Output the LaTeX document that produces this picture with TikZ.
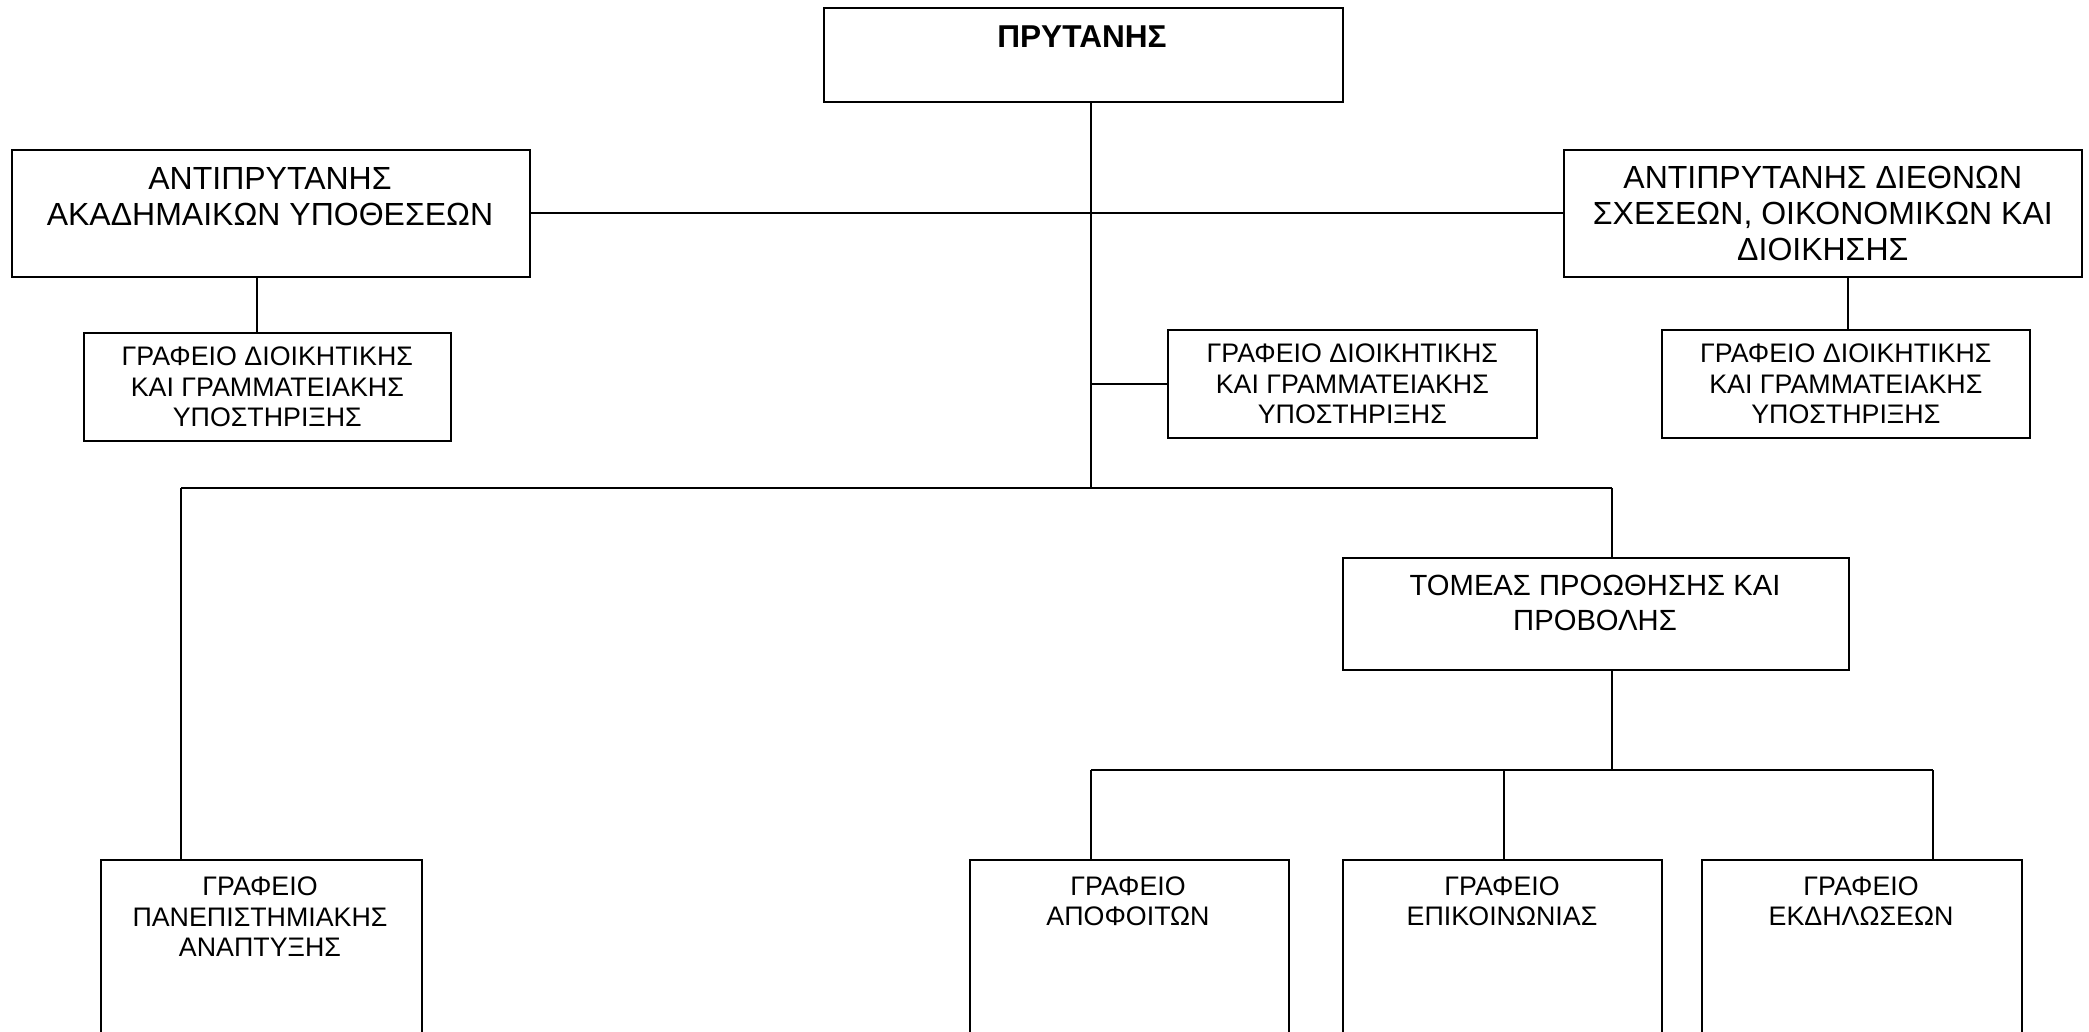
\documentclass[tikz,border=0pt]{standalone}
\usepackage{fontspec}
\setmainfont{Liberation Sans}
\usetikzlibrary{positioning}

\begin{document}
\begin{tikzpicture}[x=0.5pt,y=0.5pt,yscale=-1,xscale=1,
    box/.style={draw, line width=0.8pt, inner sep=0pt, anchor=north west, align=center},
    bigtxt/.style={font=\fontsize{16}{18}\selectfont, align=center, inner sep=0pt},
    smalltxt/.style={font=\fontsize{13.4}{15.2}\selectfont, align=center, inner sep=0pt},
    midtxt/.style={font=\fontsize{14.6}{17.5}\selectfont, align=center, inner sep=0pt},
    link/.style={line width=0.8pt}]
    \useasboundingbox (0,0) rectangle (2089,1032);
    \clip (0,0) rectangle (2089,1032);

    %Shape: Rectangle [president]
    \node [box, minimum width=259.5pt, minimum height=47pt] (pres) at (823,7) {};
    %Shape: Rectangle [vice rectors]
    \node [box, minimum width=259pt, minimum height=63.5pt] (vpA) at (11,149) {};
    \node [box, minimum width=259pt, minimum height=63.5pt, bigtxt] (vpB) at (1563,149) {ΑΝΤΙΠΡΥΤΑΝΗΣ ΔΙΕΘΝΩΝ\\ΣΧΕΣΕΩΝ, ΟΙΚΟΝΟΜΙΚΩΝ ΚΑΙ\\ΔΙΟΙΚΗΣΗΣ};
    %Shape: Rectangle [support offices]
    \node [box, minimum width=183.5pt, minimum height=54pt, smalltxt] (offA) at (83,332) {ΓΡΑΦΕΙΟ ΔΙΟΙΚΗΤΙΚΗΣ\\ΚΑΙ ΓΡΑΜΜΑΤΕΙΑΚΗΣ\\ΥΠΟΣΤΗΡΙΞΗΣ};
    \node [box, minimum width=184.5pt, minimum height=54pt, smalltxt] (offP) at (1167,329) {ΓΡΑΦΕΙΟ ΔΙΟΙΚΗΤΙΚΗΣ\\ΚΑΙ ΓΡΑΜΜΑΤΕΙΑΚΗΣ\\ΥΠΟΣΤΗΡΙΞΗΣ};
    \node [box, minimum width=184pt, minimum height=54pt, smalltxt] (offB) at (1661,329) {ΓΡΑΦΕΙΟ ΔΙΟΙΚΗΤΙΚΗΣ\\ΚΑΙ ΓΡΑΜΜΑΤΕΙΑΚΗΣ\\ΥΠΟΣΤΗΡΙΞΗΣ};
    %Shape: Rectangle [sector]
    \node [box, minimum width=253pt, minimum height=56pt] (tomeas) at (1342,557) {};
    %Shape: Rectangle [bottom offices]
    \node [box, minimum width=160.5pt, minimum height=125pt] (devel) at (100,859) {};
    \node [box, minimum width=159.5pt, minimum height=125pt] (alumni) at (969,859) {};
    \node [box, minimum width=159.5pt, minimum height=125pt] (comm) at (1342,859) {};
    \node [box, minimum width=160pt, minimum height=125pt] (events) at (1701,859) {};

    % Text Node
    \node [inner sep=0pt, font=\fontsize{15.8}{18}\selectfont\bfseries] (presT) at (1082,37) {ΠΡΥΤΑΝΗΣ};
    % Text Node
    \node [bigtxt] (vpAT) at (270,197) {ΑΝΤΙΠΡΥΤΑΝΗΣ\\ΑΚΑΔΗΜΑΙΚΩΝ ΥΠΟΘΕΣΕΩΝ};
    % Text Node
    \node [midtxt] (tomeasT) at (1595,603) {ΤΟΜΕΑΣ ΠΡΟΩΘΗΣΗΣ ΚΑΙ\\ΠΡΟΒΟΛΗΣ};
    % Text Node
    \node [smalltxt] (develT) at (260,917) {ΓΡΑΦΕΙΟ\\ΠΑΝΕΠΙΣΤΗΜΙΑΚΗΣ\\ΑΝΑΠΤΥΞΗΣ};
    % Text Node
    \node [smalltxt] (alumniT) at (1128,901) {ΓΡΑΦΕΙΟ\\ΑΠΟΦΟΙΤΩΝ};
    % Text Node
    \node [smalltxt] (commT) at (1502,901) {ΓΡΑΦΕΙΟ\\ΕΠΙΚΟΙΝΩΝΙΑΣ};
    % Text Node
    \node [smalltxt] (eventsT) at (1861,901) {ΓΡΑΦΕΙΟ\\ΕΚΔΗΛΩΣΕΩΝ};

    %Straight Lines [junctions]
    \coordinate (hub) at (1091,488);
    \coordinate (dL) at (181,488);
    \coordinate (dR) at (1612,488);
    \coordinate (sL) at (1091,770);
    \coordinate (sR) at (1933,770);
    \coordinate (cA) at (257,0);
    \coordinate (cB) at (1848,0);
    \coordinate (cC) at (1504,0);

    \draw [link] (pres.south -| hub) -- (hub);
    \draw [link] (vpA) -- (vpB);
    \draw [link] (vpA.south -| cA) -- (offA.north -| cA);
    \draw [link] (vpB.south -| cB) -- (offB.north -| cB);
    \draw [link] (offP.west -| hub) -- (offP);
    \draw [link] (dL) -- (dR);
    \draw [link] (dL) -- (devel.north -| dL);
    \draw [link] (dR) -- (tomeas.north -| dR);
    \draw [link] (tomeas.south -| dR) -- (sL -| dR);
    \draw [link] (sL) -- (sR);
    \draw [link] (sL) -- (alumni.north -| sL);
    \draw [link] (sL -| cC) -- (comm.north -| cC);
    \draw [link] (sR) -- (events.north -| sR);

\end{tikzpicture}
\end{document}
